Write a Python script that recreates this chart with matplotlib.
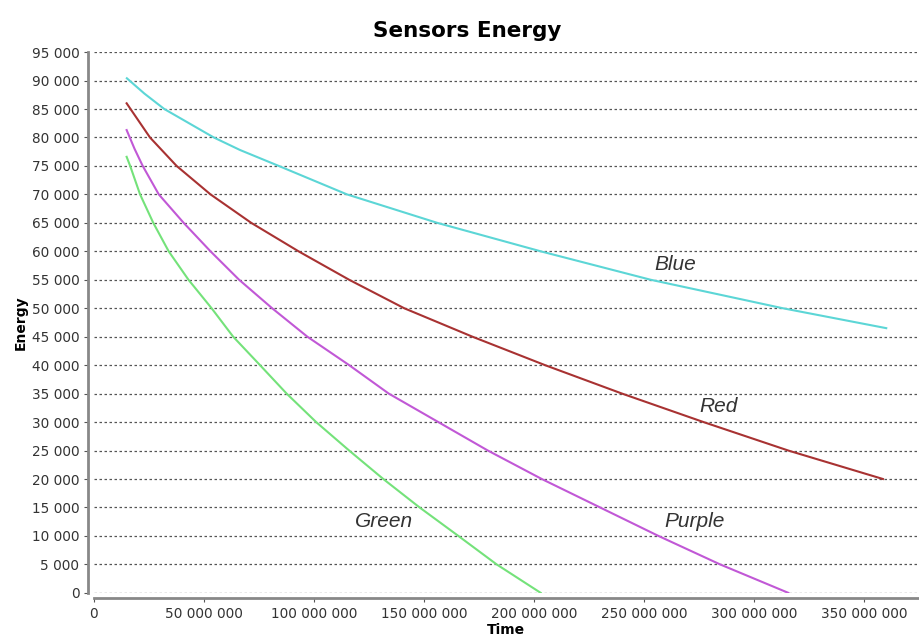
import matplotlib.pyplot as plt
from matplotlib.ticker import FuncFormatter, MultipleLocator

# Time in millions, energy in thousands
blue_t = [15, 23, 32, 54.5, 66.4, 84, 115, 156, 203, 253, 313, 360]
blue_e = [90.4, 87.7, 85, 80, 77.8, 75, 70, 65, 60, 55, 50, 46.5]

red_t = [14.9, 25.5, 37.6, 53, 71.5, 93, 116, 141, 172, 205, 240, 277, 315.5, 358.5]
red_e = [86, 80, 75, 70, 65, 60, 55, 50, 45, 40, 35, 30, 25, 20]

purple_t = [14.9, 18.5, 22.2, 29.5, 40.8, 53, 66, 81, 97, 116, 134, 156.5, 179, 203.5, 230, 256.5, 284.5, 315.5]
purple_e = [81.3, 78, 75, 70, 65, 60, 55, 50, 45, 40, 35, 30, 25, 20, 15, 10, 5, 0]

green_t = [14.9, 16.5, 21, 27, 34, 43, 53.5, 63.3, 75.5, 87.6, 101, 116, 131.5, 148, 165.6, 183, 203]
green_e = [76.6, 75, 70, 65, 60, 55, 50, 45, 40, 35, 30, 25, 20, 15, 10, 5, 0]

series = [
    ("Blue", blue_t, blue_e, "#5cd6d6", (264, 57.6)),
    ("Red", red_t, red_e, "#a83232", (283.6, 32.7)),
    ("Purple", purple_t, purple_e, "#c158d6", (273, 12.6)),
    ("Green", green_t, green_e, "#74e27a", (132, 12.5)),
]

fig = plt.figure(figsize=(9.2, 6.43), dpi=100)
ax = fig.add_axes([0.102, 0.078, 0.896, 0.841])

for name, t, e, color, pos in series:
    ax.plot([v * 1e6 for v in t], [v * 1000 for v in e], color=color, lw=1.5)
    ax.text(pos[0] * 1e6, pos[1] * 1000, name, fontsize=15, style="italic",
            family="Liberation Sans", color="#333333", ha="center", va="center")

ax.set_xlim(0, 374.5e6)
ax.set_ylim(0, 95000)
ax.xaxis.set_major_locator(MultipleLocator(50e6))
ax.yaxis.set_major_locator(MultipleLocator(5000))

fmt = FuncFormatter(lambda v, p: f"{int(round(v)):,}".replace(",", " "))
ax.xaxis.set_major_formatter(fmt)
ax.yaxis.set_major_formatter(fmt)

ax.grid(axis="y", color="#555555", linestyle=(0, (2, 2)), lw=0.9)
ax.set_axisbelow(True)

for s in ["top", "right"]:
    ax.spines[s].set_visible(False)
for s in ["left", "bottom"]:
    ax.spines[s].set_position(("outward", 4))
    ax.spines[s].set_color("#888888")
    ax.spines[s].set_linewidth(2)

ax.tick_params(labelsize=9.8, length=3, color="#555555", labelcolor="#333333")

fig.suptitle("Sensors Energy", x=0.508, y=0.967, fontsize=15.5, fontweight="bold")
ax.set_xlabel("Time", fontsize=10, fontweight="bold", labelpad=1)
ax.set_ylabel("Energy", fontsize=10, fontweight="bold", labelpad=3)

fig.savefig("out.png", dpi=100)
